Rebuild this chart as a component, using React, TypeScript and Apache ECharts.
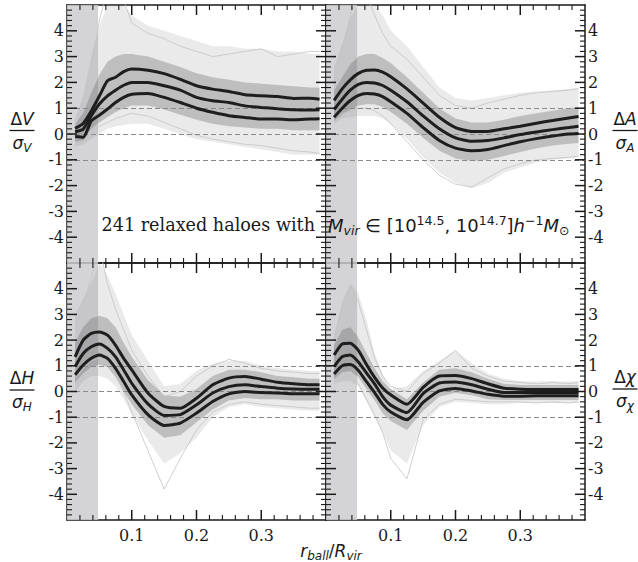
import React, { useEffect, useRef } from 'react';
import * as echarts from 'echarts';

// r_ball / R_vir sample points
const R_BALL = [0.0125, 0.025, 0.0375, 0.05, 0.0625, 0.075, 0.0875, 0.1, 0.125, 0.15, 0.175, 0.2, 0.225, 0.25, 0.275, 0.3, 0.325, 0.35, 0.375, 0.39];

// Delta V / sigma_V
const V_HI = [0.22, 0.41, 0.89, 1.47, 2.06, 2.2, 2.42, 2.52, 2.47, 2.34, 2.12, 1.87, 1.74, 1.65, 1.52, 1.48, 1.45, 1.38, 1.39, 1.35];
const V_MID = [0.09, 0.19, 0.71, 1.16, 1.48, 1.7, 1.89, 2.0, 2.0, 1.87, 1.7, 1.42, 1.29, 1.22, 1.09, 1.03, 0.98, 0.94, 0.93, 0.94];
const V_LO = [-0.1, -0.13, 0.51, 0.73, 0.97, 1.22, 1.42, 1.54, 1.57, 1.42, 1.22, 1.0, 0.84, 0.71, 0.64, 0.58, 0.58, 0.55, 0.58, 0.59];
const V_OUT_HI = [0.6, 1.5, 3.0, 4.2, 5, 5, 5, 4.6, 4.2, 4.0, 3.8, 3.6, 3.4, 3.4, 3.3, 3.3, 3.2, 3.2, 3.1, 3.1];
const V_OUT_LO = [-0.5, -0.4, -0.2, 0.0, 0.2, 0.3, 0.35, 0.4, 0.4, 0.2, 0.0, -0.2, -0.3, -0.4, -0.5, -0.6, -0.7, -0.8, -0.8, -0.8];
const V_IN_HI = [0.4, 0.8, 1.6, 2.3, 2.8, 3.0, 3.1, 3.1, 3.0, 2.8, 2.6, 2.35, 2.2, 2.1, 2.0, 1.95, 1.9, 1.85, 1.8, 1.8];
const V_IN_LO = [-0.3, -0.25, 0.2, 0.45, 0.65, 0.85, 1.0, 1.1, 1.1, 0.95, 0.75, 0.55, 0.4, 0.3, 0.25, 0.2, 0.2, 0.15, 0.15, 0.15];
const V_THIN_A = [0.3, 1.1, 2.6, 4.4, 5.6, 5.8, 5.2, 4.3, 3.9, 3.7, 3.4, 3.2, 3.0, 3.1, 3.2, 3.3, 3.0, 3.1, 3.2, 3.2];
const V_THIN_B = [-0.4, -0.3, 0.1, 0.3, 0.45, 0.6, 0.7, 0.8, 0.7, 0.45, 0.2, -0.05, -0.2, -0.3, -0.4, -0.45, -0.55, -0.65, -0.7, -0.75];

// Delta A / sigma_A
const A_HI = [1.3, 1.75, 2.1, 2.35, 2.47, 2.48, 2.4, 2.22, 1.75, 1.2, 0.65, 0.25, 0.1, 0.1, 0.2, 0.3, 0.42, 0.52, 0.62, 0.68];
const A_MID = [0.95, 1.35, 1.7, 1.92, 2.0, 1.98, 1.88, 1.7, 1.25, 0.7, 0.2, -0.15, -0.28, -0.25, -0.15, -0.02, 0.08, 0.17, 0.25, 0.3];
const A_LO = [0.65, 1.0, 1.3, 1.5, 1.57, 1.55, 1.45, 1.25, 0.8, 0.25, -0.25, -0.55, -0.65, -0.6, -0.45, -0.3, -0.18, -0.08, 0.0, 0.02];
const A_OUT_HI = [2.6, 3.5, 4.5, 5, 5, 5, 4.6, 4.0, 3.4, 2.6, 1.8, 1.4, 1.3, 1.4, 1.5, 1.6, 1.65, 1.7, 1.75, 1.8];
const A_OUT_LO = [0.4, 0.6, 0.65, 0.7, 0.7, 0.7, 0.6, 0.4, -0.2, -0.9, -1.5, -1.9, -2.1, -1.9, -1.5, -1.3, -1.1, -1.0, -0.95, -0.9];
const A_IN_HI = [1.7, 2.2, 2.7, 3.0, 3.1, 3.1, 2.95, 2.75, 2.2, 1.6, 1.0, 0.6, 0.45, 0.45, 0.55, 0.7, 0.8, 0.9, 1.0, 1.05];
const A_IN_LO = [0.5, 0.75, 0.95, 1.1, 1.15, 1.15, 1.05, 0.85, 0.4, -0.15, -0.65, -0.95, -1.05, -1.0, -0.85, -0.7, -0.55, -0.45, -0.38, -0.35];
const A_THIN_A = [2.0, 3.2, 4.6, 5.6, 5.4, 4.6, 3.9, 3.4, 2.9, 2.2, 1.5, 1.1, 1.0, 1.2, 1.35, 1.5, 1.6, 1.65, 1.7, 1.75];
const A_THIN_B = [0.6, 0.8, 0.9, 1.0, 1.0, 0.9, 0.7, 0.4, -0.3, -1.0, -1.6, -1.95, -2.05, -1.7, -1.35, -1.15, -1.0, -0.95, -0.9, -0.85];

// Delta H / sigma_H
const H_HI = [1.35, 2.0, 2.26, 2.32, 2.19, 1.8, 1.29, 0.84, -0.06, -0.58, -0.65, -0.26, 0.26, 0.52, 0.58, 0.48, 0.36, 0.3, 0.26, 0.26];
const H_MID = [0.97, 1.48, 1.74, 1.85, 1.68, 1.35, 0.84, 0.32, -0.48, -0.93, -0.9, -0.52, -0.06, 0.19, 0.26, 0.19, 0.13, 0.1, 0.09, 0.09];
const H_LO = [0.65, 1.03, 1.29, 1.42, 1.29, 0.9, 0.39, -0.13, -0.9, -1.32, -1.23, -0.84, -0.39, -0.09, 0.0, -0.04, -0.06, -0.09, -0.09, -0.09];
const H_OUT_HI = [3.0, 3.6, 4.2, 5, 4.5, 3.8, 3.0, 2.2, 1.2, 0.2, 0.3, 0.8, 1.1, 1.2, 1.2, 1.0, 0.9, 0.85, 0.8, 0.8];
const H_OUT_LO = [0.0, 0.4, 0.6, 0.6, 0.5, 0.2, -0.3, -0.9, -1.9, -2.8, -2.4, -1.8, -1.0, -0.6, -0.5, -0.6, -0.65, -0.7, -0.75, -0.75];
const H_IN_HI = [1.9, 2.5, 2.85, 2.95, 2.85, 2.5, 1.9, 1.35, 0.45, -0.15, -0.2, 0.1, 0.6, 0.85, 0.85, 0.75, 0.6, 0.55, 0.5, 0.5];
const H_IN_LO = [0.35, 0.7, 0.95, 1.05, 0.95, 0.55, 0.0, -0.5, -1.3, -1.8, -1.7, -1.2, -0.7, -0.35, -0.25, -0.3, -0.3, -0.35, -0.35, -0.35];
const H_THIN_A = [2.4, 3.4, 4.4, 5.6, 4.2, 3.2, 2.4, 1.6, 0.6, -0.2, 0.0, 0.6, 1.0, 1.25, 1.1, 0.9, 0.8, 0.75, 0.7, 0.7];
const H_THIN_B = [0.5, 0.9, 1.2, 1.3, 1.1, 0.7, 0.0, -0.8, -2.3, -3.8, -2.6, -1.5, -0.8, -0.5, -0.4, -0.5, -0.55, -0.6, -0.65, -0.65];

// Delta chi / sigma_chi
const C_HI = [1.42, 1.85, 1.88, 1.6, 1.05, 0.55, 0.14, -0.13, -0.5, 0.16, 0.6, 0.62, 0.5, 0.3, 0.13, 0.09, 0.08, 0.08, 0.08, 0.08];
const C_MID = [0.97, 1.35, 1.42, 1.15, 0.72, 0.3, -0.2, -0.53, -0.82, -0.08, 0.33, 0.37, 0.26, 0.09, -0.04, -0.04, -0.04, -0.04, -0.04, -0.04];
const C_LO = [0.68, 1.0, 1.05, 0.82, 0.38, -0.04, -0.5, -0.8, -1.1, -0.42, 0.02, 0.12, 0.02, -0.11, -0.18, -0.18, -0.17, -0.17, -0.17, -0.17];
const C_OUT_HI = [2.2, 3.5, 4.2, 3.8, 2.8, 1.5, 0.7, 0.1, 0.2, 0.8, 1.2, 1.6, 1.1, 0.7, 0.5, 0.4, 0.4, 0.4, 0.4, 0.4];
const C_OUT_LO = [0.3, 0.4, 0.4, 0.2, -0.4, -1.0, -1.6, -2.3, -2.8, -1.3, -0.6, -0.4, -0.45, -0.5, -0.5, -0.45, -0.45, -0.45, -0.45, -0.45];
const C_IN_HI = [1.8, 2.4, 2.5, 2.1, 1.5, 0.9, 0.4, 0.1, -0.3, 0.35, 0.85, 0.9, 0.75, 0.5, 0.3, 0.25, 0.25, 0.25, 0.25, 0.25];
const C_IN_LO = [0.5, 0.75, 0.8, 0.55, 0.1, -0.35, -0.85, -1.15, -1.5, -0.75, -0.2, -0.05, -0.15, -0.3, -0.33, -0.33, -0.33, -0.33, -0.33, -0.33];
const C_THIN_A = [2.0, 3.3, 4.1, 3.5, 2.4, 1.3, 0.6, 0.2, 0.0, 0.7, 1.1, 1.6, 0.9, 0.6, 0.4, 0.35, 0.3, 0.35, 0.3, 0.35];
const C_THIN_B = [0.5, 0.6, 0.6, 0.3, -0.3, -0.9, -1.6, -2.6, -3.4, -1.1, -0.5, -0.3, -0.35, -0.4, -0.4, -0.4, -0.45, -0.4, -0.45, -0.4];

// axes: labelled ticks 0.1..0.3 and -4..4; minor ticks every 0.02 and 0.2
const X_RANGE = [0, 0.4];
const X_STEP = 0.1;
const X_MINOR_STEP = 0.02;
const Y_RANGE = [-5, 5];
const Y_STEP = 1;
const Y_MINOR_STEP = 0.2;
const DASH_LEVELS = [-1, 0, 1];
const SHADE_END = 0.048;

const PANELS = [
  { hi: V_HI, mid: V_MID, lo: V_LO, outHi: V_OUT_HI, outLo: V_OUT_LO, inHi: V_IN_HI, inLo: V_IN_LO, thin: [V_THIN_A, V_THIN_B] },
  { hi: A_HI, mid: A_MID, lo: A_LO, outHi: A_OUT_HI, outLo: A_OUT_LO, inHi: A_IN_HI, inLo: A_IN_LO, thin: [A_THIN_A, A_THIN_B] },
  { hi: H_HI, mid: H_MID, lo: H_LO, outHi: H_OUT_HI, outLo: H_OUT_LO, inHi: H_IN_HI, inLo: H_IN_LO, thin: [H_THIN_A, H_THIN_B] },
  { hi: C_HI, mid: C_MID, lo: C_LO, outHi: C_OUT_HI, outLo: C_OUT_LO, inHi: C_IN_HI, inLo: C_IN_LO, thin: [C_THIN_A, C_THIN_B] },
];

const INK = '#1a1a1a';
const SERIF = '"DejaVu Serif", serif';
const SANS = '"DejaVu Sans", sans-serif';

const GRIDS = [
  { left: 67, top: 5, width: 259, height: 258 },
  { left: 326, top: 5, width: 259, height: 258 },
  { left: 67, top: 263, width: 259, height: 257 },
  { left: 326, top: 263, width: 259, height: 257 },
];

function steps(range: number[], step: number) {
  const out: number[] = [];
  const n = Math.round((range[1] - range[0]) / step);
  for (let k = 1; k < n; k++) out.push(+(range[0] + k * step).toFixed(6));
  return out;
}

function baseAxis(gi: number, position: string, showLabel: boolean, range: number[], step: number, margin: number, fmt: (v: number) => string) {
  return {
    type: 'value', gridIndex: gi, position, min: range[0], max: range[1], interval: step,
    axisLine: { show: true, onZero: false, lineStyle: { color: INK, width: 1.5 } },
    axisTick: { show: false },
    minorTick: { show: false },
    splitLine: { show: false }, minorSplitLine: { show: false },
    axisLabel: { show: showLabel, showMinLabel: false, showMaxLabel: false, hideOverlap: false,
      fontFamily: SERIF, fontSize: 16, color: INK, margin, formatter: fmt },
  };
}

function tickSeries(gi: number) {
  const isMajor = (v: number, s: number) => Math.abs(v / s - Math.round(v / s)) < 1e-6;
  const xs = steps(X_RANGE, X_MINOR_STEP).map((v) => ({ v, major: isMajor(v, X_STEP) }));
  const ys = steps(Y_RANGE, Y_MINOR_STEP).map((v) => ({ v, major: isMajor(v, Y_STEP) }));
  return {
    type: 'custom', xAxisIndex: 2 * gi, yAxisIndex: 2 * gi, z: 10, silent: true, clip: false,
    data: [[X_RANGE[0], Y_RANGE[0]]],
    renderItem: (params: any, api: any) => {
      if (params.dataIndex !== 0) return null;
      const children: any[] = [];
      const add = (x1: number, y1: number, x2: number, y2: number, major: boolean) => {
        children.push({ type: 'line', shape: { x1, y1, x2, y2 },
          style: { stroke: INK, lineWidth: major ? 1.5 : 1.1 } });
      };
      xs.forEach((t) => {
        const len = t.major ? 10 : 5;
        const b = api.coord([t.v, Y_RANGE[0]]);
        const tp = api.coord([t.v, Y_RANGE[1]]);
        add(b[0], b[1], b[0], b[1] - len, t.major);
        add(tp[0], tp[1], tp[0], tp[1] + len, t.major);
      });
      ys.forEach((t) => {
        const len = t.major ? 10 : 5;
        const l = api.coord([X_RANGE[0], t.v]);
        const r = api.coord([X_RANGE[1], t.v]);
        add(l[0], l[1], l[0] + len, l[1], t.major);
        add(r[0], r[1], r[0] - len, r[1], t.major);
      });
      return { type: 'group', children };
    },
  };
}

function band(gi: number, hi: number[], lo: number[], fill: string, z: number) {
  return {
    type: 'custom', xAxisIndex: 2 * gi, yAxisIndex: 2 * gi, z, clip: true, silent: true,
    data: [[R_BALL[0], lo[0]]],
    renderItem: (params: any, api: any) => {
      if (params.dataIndex !== 0) return null;
      const top = R_BALL.map((x, k) => api.coord([x, hi[k]]));
      const bot = R_BALL.map((x, k) => api.coord([x, lo[k]])).reverse();
      return { type: 'polygon', shape: { points: top.concat(bot) }, style: { fill } };
    },
  };
}

function richSet(main: number, small: number, lh: number) {
  return {
    u: { fontFamily: SANS, fontSize: main, fill: INK, lineHeight: lh },
    i: { fontFamily: SANS, fontSize: main, fontStyle: 'italic', fill: INK, lineHeight: lh },
    s: { fontFamily: SANS, fontSize: small, fontStyle: 'italic', fill: INK, lineHeight: 12, verticalAlign: 'bottom' },
    su: { fontFamily: SANS, fontSize: small, fill: INK, lineHeight: 12, verticalAlign: 'bottom' },
    p: { fontFamily: SANS, fontSize: small, fill: INK, lineHeight: 12, verticalAlign: 'top' },
  };
}
const RICH_BASE = richSet(17, 12, 22);
const RICH_ANN = richSet(18, 12.5, 23);

function fraction(cx: number, barY: number, num: string, den: string) {
  return [
    { type: 'text', x: cx, y: barY - 1, style: { text: num, rich: RICH_BASE, align: 'center', verticalAlign: 'bottom' } },
    { type: 'line', shape: { x1: cx - 12.5, y1: barY, x2: cx + 12.5, y2: barY }, style: { stroke: INK, lineWidth: 1.3 } },
    { type: 'text', x: cx, y: barY + 1, style: { text: den, rich: RICH_BASE, align: 'center', verticalAlign: 'top' } },
  ];
}

export default function App() {
  const ref = useRef<HTMLDivElement>(null);
  useEffect(() => {
    if (!ref.current) return;
    const chart = echarts.init(ref.current, null, { renderer: 'svg' });
    const xAxes: any[] = [];
    const yAxes: any[] = [];
    const series: any[] = [];
    const fx = (v: number) => v.toFixed(1);
    const fy = (v: number) => String(Math.round(v));
    PANELS.forEach((p, gi) => {
      const bottomRow = gi >= 2;
      const leftCol = gi % 2 === 0;
      xAxes.push(baseAxis(gi, 'bottom', bottomRow, X_RANGE, X_STEP, 7, fx));
      xAxes.push(baseAxis(gi, 'top', false, X_RANGE, X_STEP, 7, fx));
      yAxes.push(baseAxis(gi, 'left', leftCol, Y_RANGE, Y_STEP, 3, fy));
      yAxes.push(baseAxis(gi, 'right', !leftCol, Y_RANGE, Y_STEP, 3, fy));
      series.push(band(gi, p.outHi, p.outLo, 'rgba(150,150,150,0.2)', 2));
      series.push(band(gi, p.inHi, p.inLo, 'rgba(110,110,110,0.35)', 3));
      p.thin.forEach((arr) => {
        series.push({
          type: 'line', xAxisIndex: 2 * gi, yAxisIndex: 2 * gi, z: 3, silent: true, clip: true,
          data: R_BALL.map((x, k) => [x, arr[k]]), showSymbol: false, symbol: 'none',
          lineStyle: { color: '#c4c4c4', width: 0.8 },
        });
      });
      series.push({
        type: 'line', xAxisIndex: 2 * gi, yAxisIndex: 2 * gi, data: [], z: 4, silent: true,
        markArea: { silent: true, itemStyle: { color: 'rgba(205,205,207,0.85)' }, data: [[{ xAxis: 0 }, { xAxis: SHADE_END }]] },
      });
      series.push({
        type: 'line', xAxisIndex: 2 * gi, yAxisIndex: 2 * gi, data: [], z: 4, silent: true,
        markLine: { symbol: 'none', silent: true, label: { show: false },
          lineStyle: { type: [5, 3], color: '#8a8a8a', width: 1.2 },
          data: DASH_LEVELS.map((v) => ({ yAxis: v })) },
      });
      [p.hi, p.mid, p.lo].forEach((arr) => {
        series.push({
          type: 'line', xAxisIndex: 2 * gi, yAxisIndex: 2 * gi, z: 5, silent: true,
          data: R_BALL.map((x, k) => [x, arr[k]]), showSymbol: false, symbol: 'none', smooth: 0.2,
          lineStyle: { color: '#1e1e1e', width: 3 },
        });
      });
      series.push(tickSeries(gi));
    });

    const graphic: any[] = [
      ...fraction(22, 130.5, '{u|Δ}{i|V}', '{i|σ}{s|V}'),
      ...fraction(625, 130.5, '{u|Δ}{i|A}', '{i|σ}{s|A}'),
      ...fraction(22, 390, '{u|Δ}{i|H}', '{i|σ}{s|H}'),
      ...fraction(625, 389, '{u|Δ}{i|χ}', '{i|σ}{s|χ}'),
      { type: 'text', x: 315, y: 225, z: 100,
        style: { text: '241 relaxed haloes with', font: `17.6px ${SERIF}`, fill: INK, align: 'right', verticalAlign: 'middle' } },
      { type: 'text', x: 328, y: 225, z: 100,
        style: { text: '{i|M}{s|vir}{u| ∈ [10}{p|14.5}{u|, 10}{p|14.7}{u|]}{i|h}{p|−1}{i|M}{su|⊙}',
          rich: RICH_ANN, align: 'left', verticalAlign: 'middle' } },
      { type: 'text', x: 331, y: 551, z: 100,
        style: { text: '{i|r}{s|ball}{u|/}{i|R}{s|vir}', rich: RICH_BASE, align: 'center', verticalAlign: 'middle' } },
    ];

    chart.setOption({
      animation: false,
      backgroundColor: '#ffffff',
      textStyle: { fontFamily: SERIF },
      grid: GRIDS.map((g) => ({ ...g, containLabel: false })),
      xAxis: xAxes,
      yAxis: yAxes,
      series,
      graphic,
    });
    return () => chart.dispose();
  }, []);
  return <div ref={ref} style={{ position: 'absolute', left: 0, top: 0, width: 638, height: 562 }} />;
}
